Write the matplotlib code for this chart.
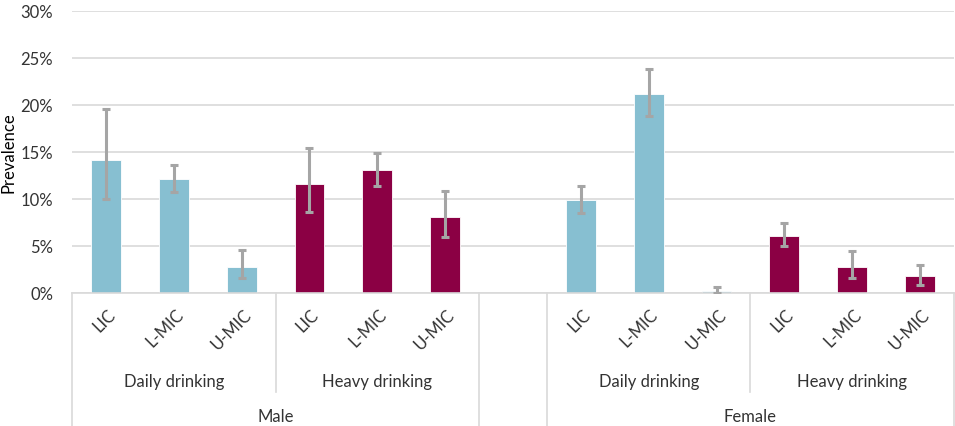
import matplotlib.pyplot as plt
from matplotlib.ticker import PercentFormatter

# prevalence (%) with 95% CI, order: LIC, L-MIC, U-MIC
income_groups = ["LIC", "L-MIC", "U-MIC"]
measures = ["Daily drinking", "Heavy drinking"]
sexes = ["Male", "Female"]

male_daily = [14.1, 12.1, 2.8]
male_daily_lo = [10.0, 10.7, 1.6]
male_daily_hi = [19.6, 13.6, 4.6]

male_heavy = [11.6, 13.1, 8.1]
male_heavy_lo = [8.6, 11.4, 6.0]
male_heavy_hi = [15.4, 14.9, 10.9]

female_daily = [9.9, 21.2, 0.2]
female_daily_lo = [8.5, 18.8, 0.0]
female_daily_hi = [11.4, 23.8, 0.6]

female_heavy = [6.1, 2.8, 1.8]
female_heavy_lo = [5.0, 1.6, 0.9]
female_heavy_hi = [7.5, 4.5, 3.0]

plt.rcParams.update({"font.family": ["Lato", "DejaVu Sans"], "font.size": 12})

BLUE = "#87bfd1"
MAROON = "#8b0044"
ERR = "#a5a5a5"
GRID = "#d9d9d9"
TEXT = "#333333"
FS = 12

W, H = 955, 427
fig = plt.figure(figsize=(W / 100, H / 100), dpi=100)
x0, x1, ytop, ybot = 72, 954, 12, 294
ax = fig.add_axes([x0 / W, (H - ybot) / H, (x1 - x0) / W, (ybot - ytop) / H])

series = [
    (0, male_daily, male_daily_lo, male_daily_hi, BLUE),
    (3, male_heavy, male_heavy_lo, male_heavy_hi, MAROON),
    (7, female_daily, female_daily_lo, female_daily_hi, BLUE),
    (10, female_heavy, female_heavy_lo, female_heavy_hi, MAROON),
]

for start, vals, lo, hi, col in series:
    xs = [start + i for i in range(len(vals))]
    ax.bar(xs, vals, width=0.44, color=col, edgecolor="white", linewidth=0.6, zorder=2)
    yerr = [[v - l for v, l in zip(vals, lo)], [h - v for v, h in zip(vals, hi)]]
    ax.errorbar(xs, vals, yerr=yerr, fmt="none", ecolor=ERR, elinewidth=2.2,
                capsize=3, capthick=2.2, zorder=3)

ax.set_xlim(-0.5, 12.5)
ax.set_ylim(0, 30)
ax.set_yticks(range(0, 31, 5))
ax.yaxis.set_major_formatter(PercentFormatter(decimals=0))
ax.grid(axis="y", color=GRID, linewidth=1.2, zorder=0)
ax.set_axisbelow(True)
for s in ["top", "right", "left"]:
    ax.spines[s].set_visible(False)
ax.spines["bottom"].set_color(GRID)
ax.spines["bottom"].set_linewidth(1.2)
ax.tick_params(axis="y", length=0, pad=13.5, colors=TEXT, labelsize=FS)
ax.tick_params(axis="x", length=0, labelbottom=False)
ax.set_ylabel("Prevalence", color="black", fontsize=FS)
ax.yaxis.set_label_coords(-0.063, 0.5)

# multi-level category axis below the plot
tr = ax.get_xaxis_transform()
ph = ybot - ytop


def fy(py):
    return (ybot - py) / ph


line_kw = dict(color=GRID, linewidth=1.2, transform=tr, clip_on=False)
for xb in [-0.5, 5.5, 6.5, 12.5]:
    ax.plot([xb, xb], [0, fy(H + 2)], **line_kw)
for xb in [2.5, 9.5]:
    ax.plot([xb, xb], [0, fy(393)], **line_kw)

for start, vals, *_ in series:
    for i, name in enumerate(income_groups):
        ax.text(start + i + 0.02, fy(307), name, transform=tr, rotation=45,
                rotation_mode="anchor", ha="right", va="top", fontsize=FS, color=TEXT)
    mid = start + 1
    ax.text(mid, fy(382), measures[0] if start in (0, 7) else measures[1],
            transform=tr, ha="center", va="center", fontsize=FS, color=TEXT)

ax.text(2.5, fy(417), sexes[0], transform=tr, ha="center", va="center", fontsize=FS, color=TEXT)
ax.text(9.5, fy(417), sexes[1], transform=tr, ha="center", va="center", fontsize=FS, color=TEXT)

fig.savefig("out.png", dpi=100)
